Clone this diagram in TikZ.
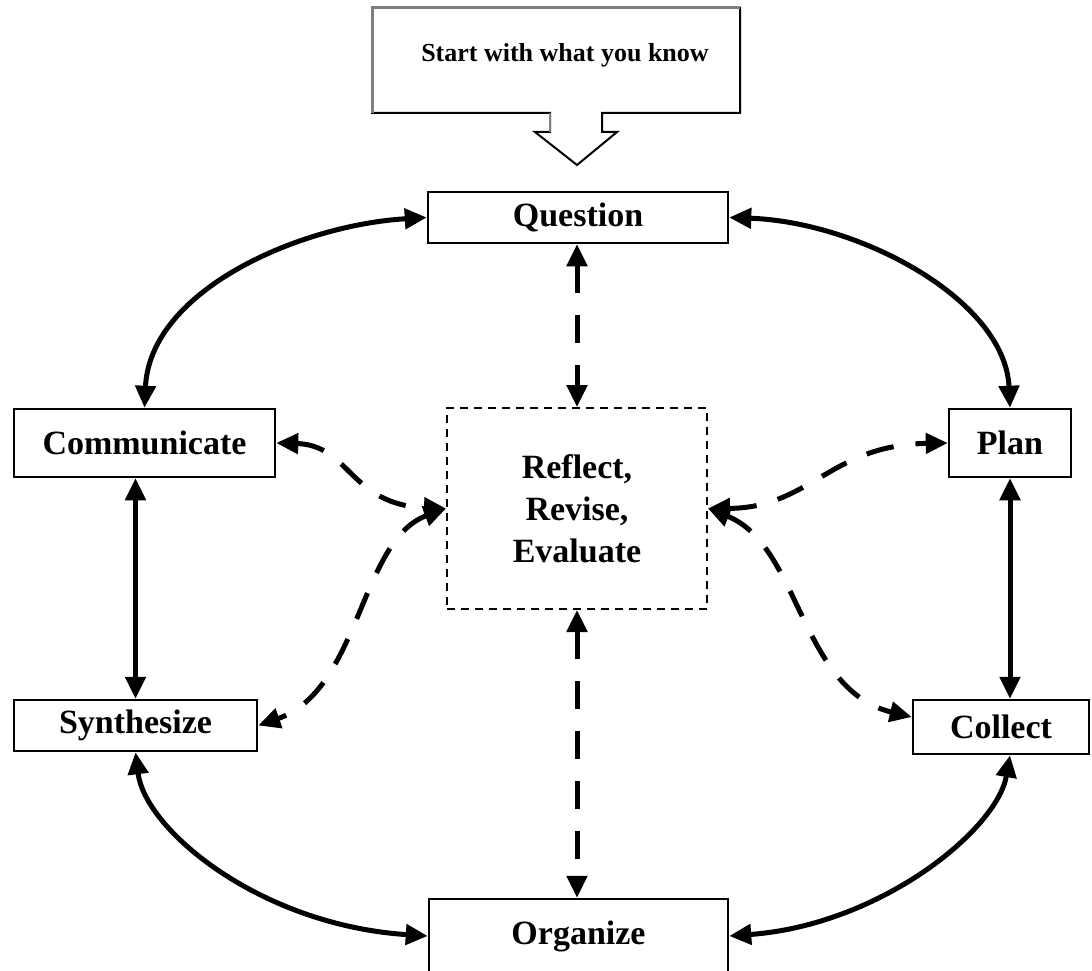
\documentclass[tikz,border=0pt]{standalone}
\usepackage{fontspec}
\setmainfont{Liberation Serif}
\usetikzlibrary{arrows.meta}
\begin{document}
\begin{tikzpicture}[x=1pt,y=-1pt,
  box/.style={draw=black, line width=2.5pt, fill=white, inner sep=0pt,
    font=\fontsize{34}{40}\selectfont\bfseries},
  solidarrow/.style={line width=5pt,
    {Triangle[length=22pt,width=20pt]}-{Triangle[length=22pt,width=20pt]}},
  dasharrow/.style={line width=5pt, dash pattern=on 28pt off 22pt,
    {Triangle[length=22pt,width=20pt]}-{Triangle[length=22pt,width=20pt]}},
]
\fill[white] (0,0) rectangle (1092,971);
\clip (0,0) rectangle (1092,971);

% callout
\draw[line width=2pt, fill=white] (372,8) -- (740,8) -- (740,113) -- (602,113) -- (602,132) -- (617,132)
  -- (577,165) -- (535,132) -- (550,132) -- (550,113) -- (372,113) -- cycle;
\draw[gray, line width=3pt] (372,113) -- (372,8) -- (740,8);
\draw[gray, line width=2pt] (550,113) -- (550,132);
\node[font=\fontsize{26}{30}\selectfont\bfseries] (start) at (565,55) {Start with what you know};

% boxes
\node[box, minimum width=300pt, minimum height=51pt] (q) at (578,217.5) {Question};
\node[box, minimum width=261pt, minimum height=68pt] (comm) at (144.5,443) {Communicate};
\node[box, minimum width=122pt, minimum height=68pt] (plan) at (1010,443) {Plan};
\node[box, minimum width=243pt, minimum height=51pt] (synth) at (135.5,725.5) {Synthesize};
\node[box, minimum width=176pt, minimum height=54pt] (collect) at (1001,727) {Collect};
\node[box, minimum width=299pt, minimum height=74pt] (org) at (578.5,936) {\raisebox{4pt}{Organize}};
\node[draw=black, line width=2pt, dash pattern=on 8pt off 6pt, inner sep=0pt,
  minimum width=260pt, minimum height=201pt, align=center,
  font=\fontsize{34}{42}\selectfont\bfseries] (reflect) at (577,508.5) {Reflect,\\Revise,\\Evaluate};

% solid connectors
\draw[solidarrow] (q.west) .. controls (300,225) and (150,290) .. (comm.north);
\draw[solidarrow] (q.east) .. controls (860,222) and (1005,300) .. (plan.north);
\draw[solidarrow] (synth.north |- comm.south) -- (synth.north);
\draw[solidarrow] (plan.south) -- (plan.south |- collect.north);
\draw[solidarrow] (synth.south) .. controls (145,830) and (260,925) .. (org.west);
\draw[solidarrow] (plan.south |- collect.south) .. controls (997,830) and (880,925) .. (org.east);

% dashed connectors
\draw[dasharrow] (reflect.north |- q.south) -- (reflect.north);
\draw[dasharrow] (reflect.south) -- (reflect.south |- org.north);
\draw[dasharrow] (comm.east) .. controls (350,445) and (350,505) .. (reflect.west);
\draw[dasharrow] (reflect.west) .. controls (360,540) and (360,690) .. (synth.east);
\draw[dasharrow] (reflect.east) .. controls (810,508) and (830,445) .. (plan.west);
\draw[dasharrow] (reflect.east) .. controls (800,545) and (800,690) .. ([yshift=10pt]collect.west);
\end{tikzpicture}
\end{document}
